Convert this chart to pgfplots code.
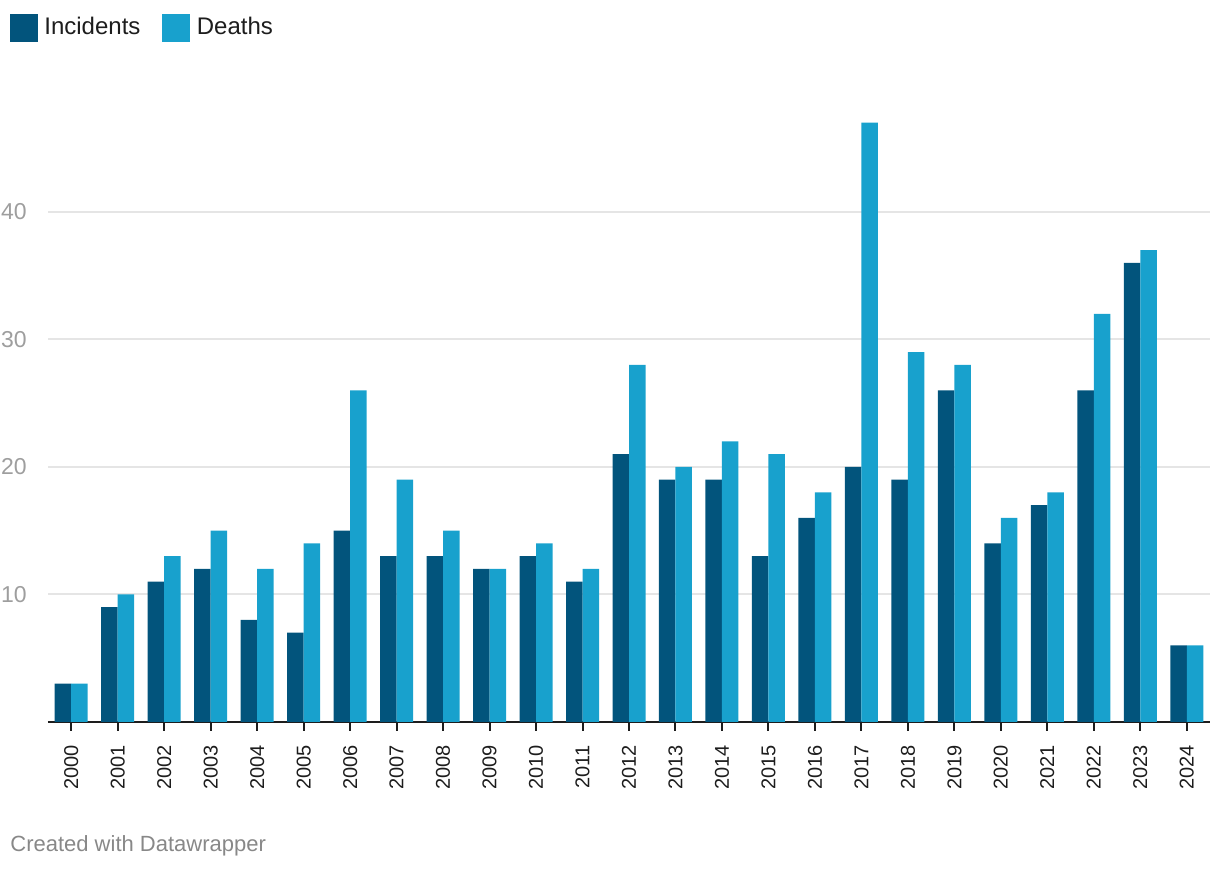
\documentclass[border=0pt]{standalone}
\usepackage{pgfplots}
\pgfplotsset{compat=1.18}
\usepackage{fontspec}
\setmainfont{Liberation Sans}
\definecolor{inc}{HTML}{02547C}
\definecolor{dea}{HTML}{18A1CD}
\definecolor{gridc}{HTML}{E5E5E5}
\definecolor{tickc}{HTML}{9E9E9E}
\definecolor{foot}{HTML}{888888}
\definecolor{txt}{HTML}{1D1D1D}
\begin{document}
\begin{tikzpicture}
\useasboundingbox (-24pt,-74pt) rectangle (586pt,361pt);
\begin{axis}[
  at={(0pt,0pt)}, anchor=south west,
  scale only axis, width=581pt, height=306pt,
  xmin=-0.5, xmax=24.5, ymin=0, ymax=48,
  ybar=0pt, bar width=8.25pt,
  axis x line*=bottom, axis y line*=left,
  y axis line style={draw=none},
  x axis line style={draw=txt, line width=1pt},
  ytick={10,20,30,40},
  ytick style={draw=none},
  ymajorgrids, major grid style={draw=gridc, line width=1pt},
  xtick={0,...,24},
  xticklabels={2000,2001,2002,2003,2004,2005,2006,2007,2008,2009,2010,2011,2012,2013,2014,2015,2016,2017,2018,2019,2020,2021,2022,2023,2024},
  tick align=outside,
  xtick style={draw=txt, line width=1pt},
  major tick length=4.5pt,
  /pgf/number format/assume math mode=true,
  yticklabel style={font=\fontsize{11.5}{13}\selectfont, text=tickc, anchor=east, inner sep=0pt, xshift=-6pt},
  xticklabel style={font=\fontsize{10}{12}\selectfont, text=txt, rotate=90, anchor=east, inner sep=0pt, xshift=-7pt},
]
\addplot[fill=inc, draw=none] coordinates {
(0,3) (1,9) (2,11) (3,12) (4,8) (5,7) (6,15) (7,13) (8,13) (9,12) (10,13) (11,11) (12,21) (13,19) (14,19) (15,13) (16,16) (17,20) (18,19) (19,26) (20,14) (21,17) (22,26) (23,36) (24,6)};
\addplot[fill=dea, draw=none] coordinates {
(0,3) (1,10) (2,13) (3,15) (4,12) (5,14) (6,26) (7,19) (8,15) (9,12) (10,14) (11,12) (12,28) (13,20) (14,22) (15,21) (16,18) (17,47) (18,29) (19,28) (20,16) (21,18) (22,32) (23,37) (24,6)};
\end{axis}
% legend
\fill[inc] (-19pt,340pt) rectangle (-5pt,354pt);
\node[anchor=base west, inner sep=0pt, text=txt, font=\fontsize{12}{14}\selectfont] at (-2pt,343.5pt) {Incidents};
\fill[dea] (57pt,340pt) rectangle (71pt,354pt);
\node[anchor=base west, inner sep=0pt, text=txt, font=\fontsize{12}{14}\selectfont] at (74.25pt,343.5pt) {Deaths};
% footer
\node[anchor=base west, inner sep=0pt, text=foot, font=\fontsize{11}{13}\selectfont] at (-19pt,-65pt) {Created with Datawrapper};
\end{tikzpicture}
\end{document}
